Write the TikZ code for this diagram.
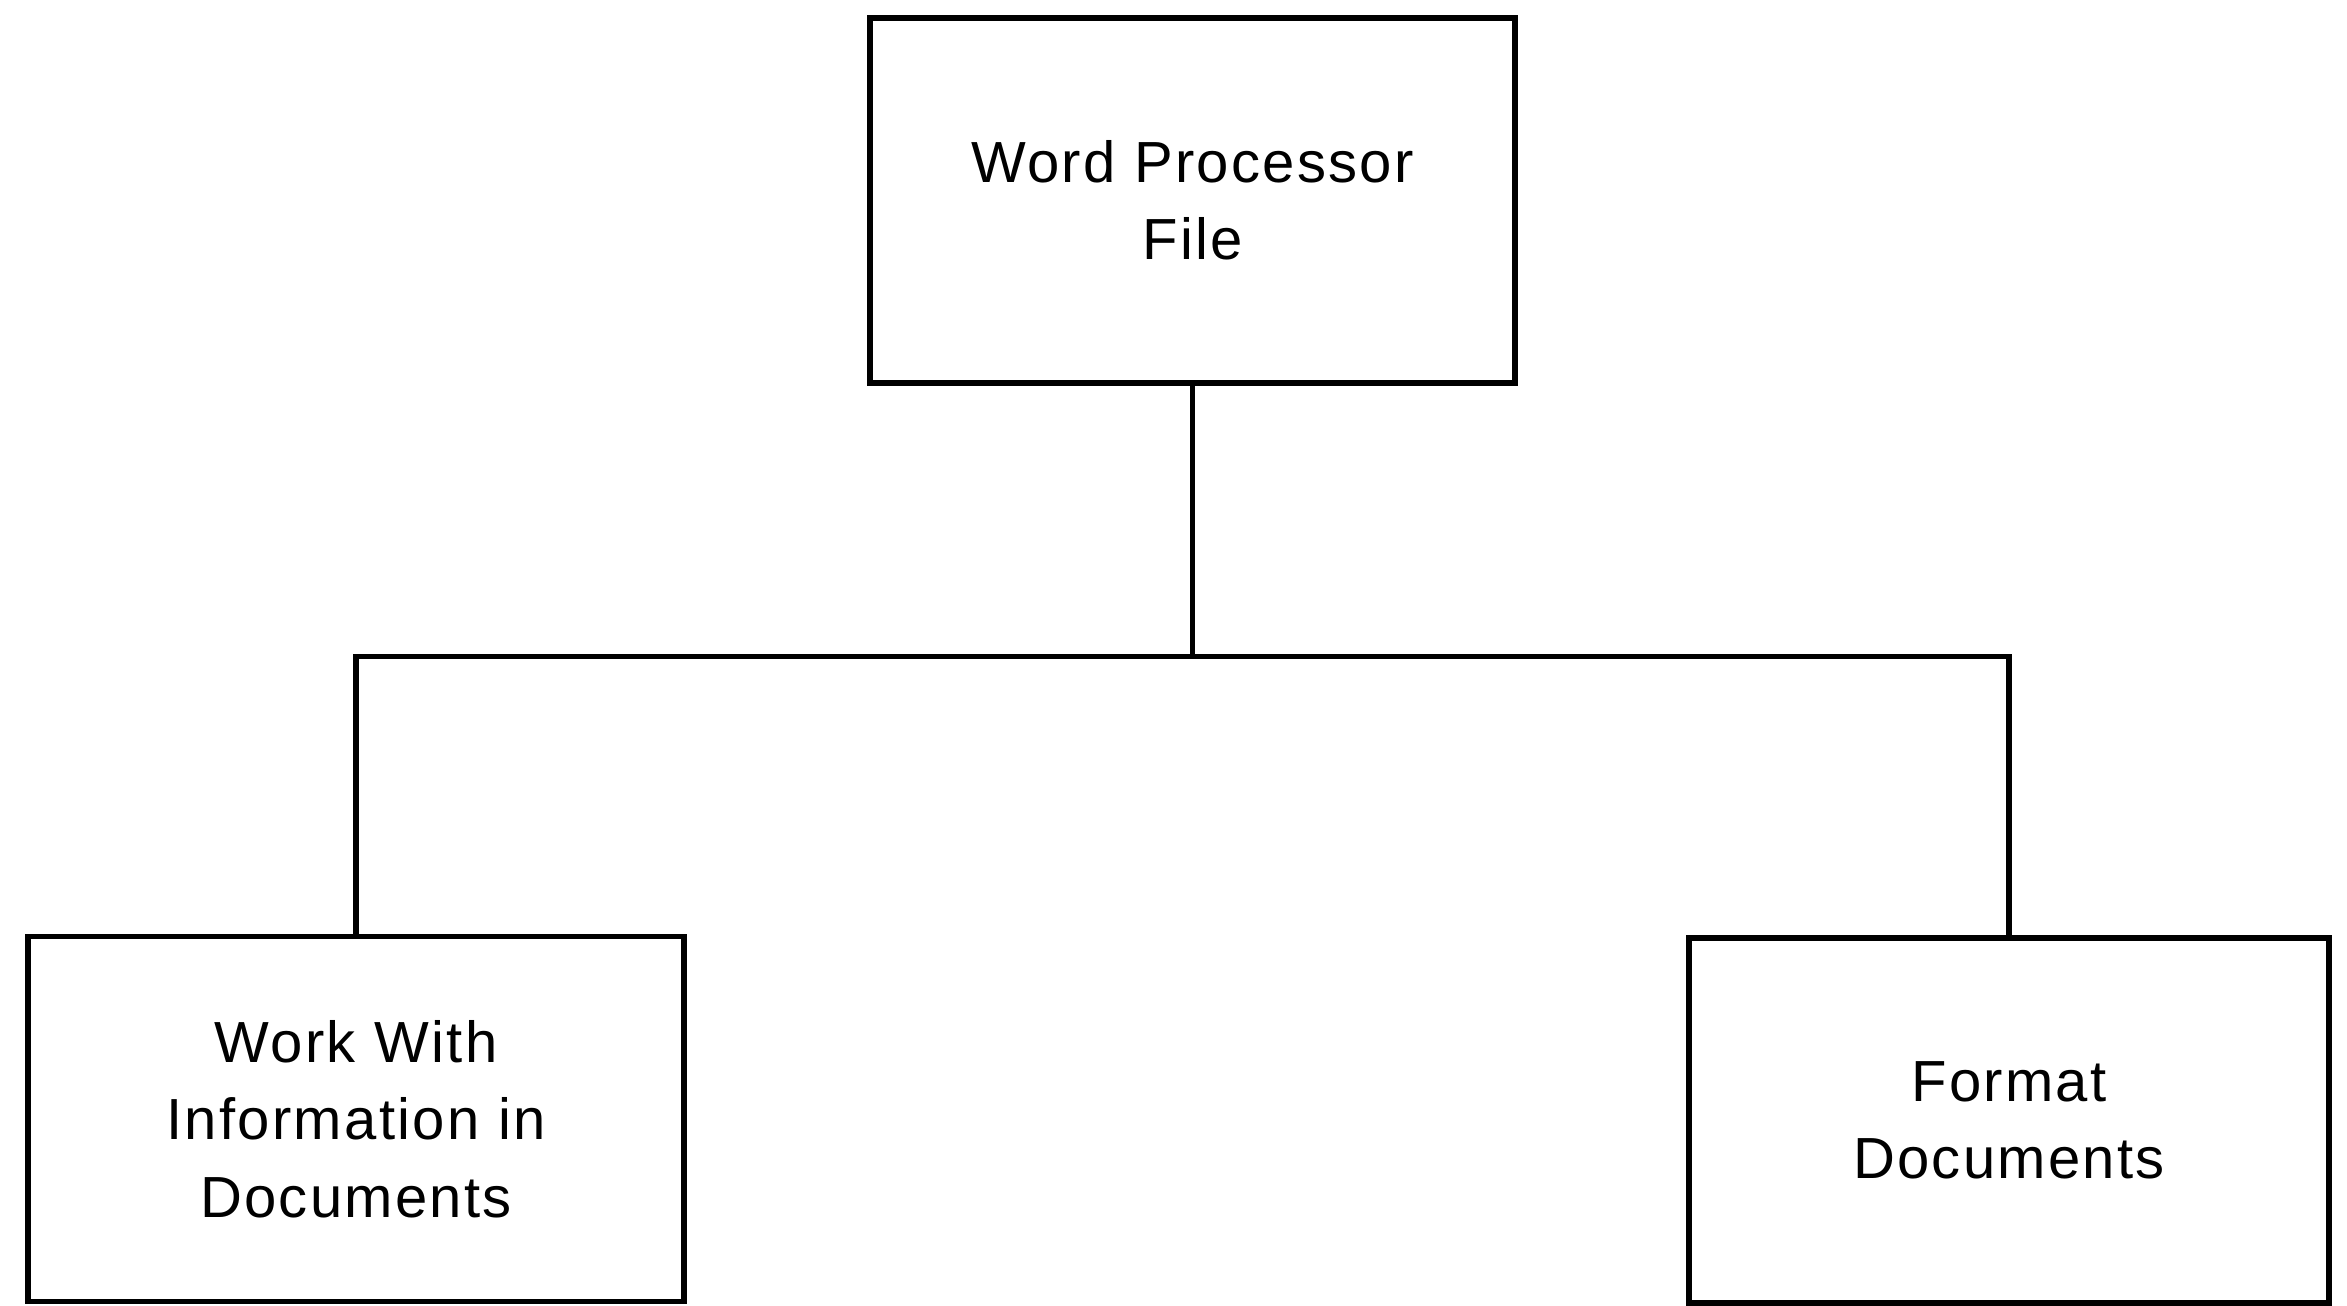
\documentclass[tikz,border=0pt]{standalone}
\usepackage{fontspec}
\setmainfont{Liberation Sans}[LetterSpace=4]
\usetikzlibrary{positioning}

\begin{document}
\begin{tikzpicture}[every node/.style={align=center},
  box/.style={draw,line width=1.5pt,minimum height=3.65cm,font=\fontsize{16.5}{22}\selectfont}]
\useasboundingbox (0,0) rectangle (23.47,-13.06);
\node[box,minimum width=6.45cm] (file) at (11.925,-2.005) {Word Processor\\File};
\node[box,minimum width=6.56cm] (work) at (3.56,-11.19) {Work With\\Information in\\Documents};
\node[box,minimum width=6.40cm] (format) at (20.09,-11.205) {Format\\Documents};
\coordinate[below=2.71cm of file.south] (bus);
\draw[line width=1.5pt] (file.south)--(bus);
\draw[line width=1.5pt] (work.north) |- (bus) -| (format.north);
\end{tikzpicture}
\end{document}
